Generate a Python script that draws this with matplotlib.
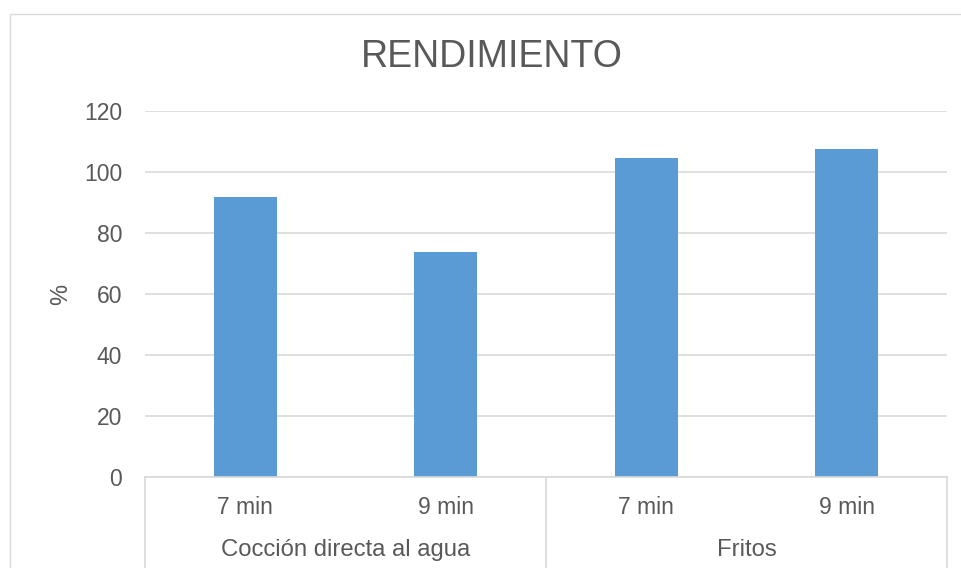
import matplotlib
matplotlib.use("Agg")
import matplotlib.pyplot as plt
from matplotlib.patches import Rectangle
from matplotlib.lines import Line2D

# Yield data (%) by cooking method and time
groups = ["Cocción directa al agua", "Fritos"]
times = ["7 min", "9 min", "7 min", "9 min"]
values = [91.9, 73.9, 104.7, 107.4]
yticks = [0, 20, 40, 60, 80, 100, 120]

TEXT = "#595959"
GRID = "#d9d9d9"
BAR = "#5b9bd5"

plt.rcParams["font.family"] = ["Liberation Sans", "DejaVu Sans"]

fig = plt.figure(figsize=(9.62, 5.68), dpi=100)
fig.patch.set_facecolor("white")

# Chart area border
fig.add_artist(Rectangle((9.5 / 962, -0.05), 1.2, 0.9745 + 0.05,
                         transform=fig.transFigure, fill=False,
                         edgecolor=GRID, linewidth=1.0))

ax = fig.add_axes([145 / 962, 1 - 477 / 568, 802 / 962, 366 / 568])
x = list(range(len(values)))
ax.bar(x, values, width=0.315, color=BAR, zorder=3)

ax.set_xlim(-0.5, len(values) - 0.5)
ax.set_ylim(0, 120)
ax.set_yticks(yticks)
ax.set_yticklabels([str(t) for t in yticks])
ax.tick_params(axis="y", length=0, pad=16.5, labelsize=16.5, labelcolor=TEXT)
ax.set_xticks([])
ax.grid(axis="y", color=GRID, linewidth=1.2, zorder=0)
for s in ["top", "right", "left"]:
    ax.spines[s].set_visible(False)
ax.spines["bottom"].set_color(GRID)
ax.spines["bottom"].set_linewidth(1.2)
ax.spines["bottom"].set_zorder(4)

# Value axis title
ax.text(-(145 - 61) / 802, 0.5, "%", transform=ax.transAxes, rotation=90,
        ha="center", va="center", fontsize=17, color=TEXT)

fig.text(492 / 962, 1 - 57 / 568, "RENDIMIENTO",
         ha="center", va="center", fontsize=27, color=TEXT)

# Two-level category axis
tr = ax.get_xaxis_transform()
for xi, lab in zip(x, times):
    ax.text(xi, -(507 - 477) / 366, lab, transform=tr, ha="center",
            va="center", fontsize=16.5, color=TEXT)
n_per = len(times) // len(groups)
for gi, g in enumerate(groups):
    cx = gi * n_per + (n_per - 1) / 2
    ax.text(cx, -(550 - 477) / 366, g, transform=tr, ha="center",
            va="center", fontsize=17.2, color=TEXT)
for gi in range(len(groups) + 1):
    bx = gi * n_per - 0.5
    ax.add_line(Line2D([bx, bx], [0, -0.4], transform=tr, color=GRID,
                       linewidth=1.2, clip_on=False))

fig.savefig("out.png", dpi=100, facecolor="white")
